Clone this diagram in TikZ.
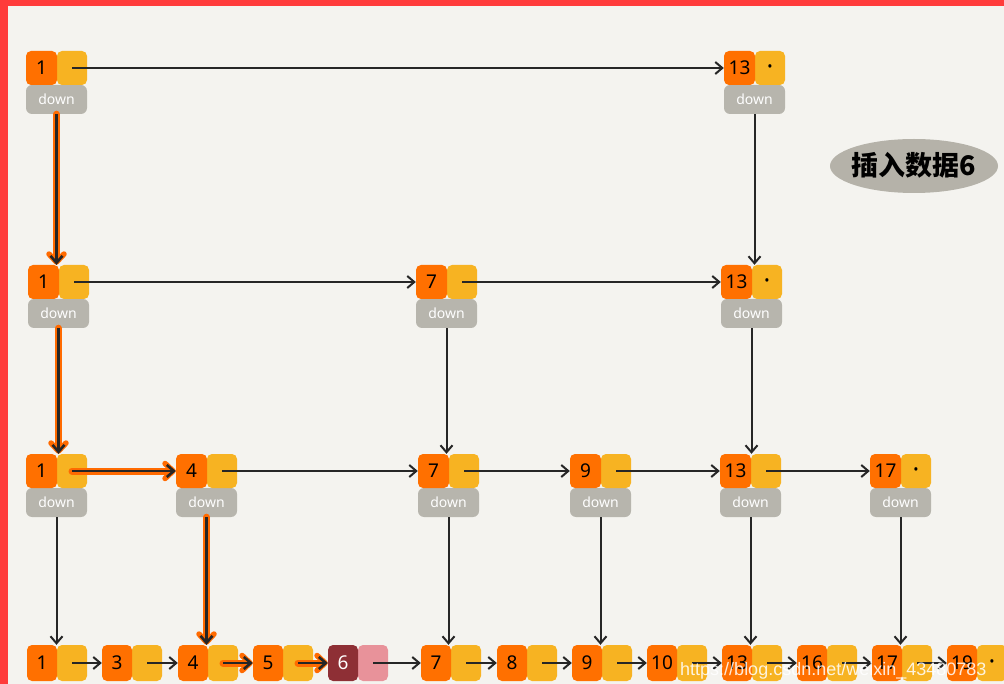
\documentclass[tikz,border=0pt]{standalone}
\usepackage{fontspec}
\setmainfont{Noto Sans}
\newfontfamily\cjk{Noto Sans CJK SC}
\newfontfamily\wmfont{Liberation Sans}
\usetikzlibrary{arrows.meta}
\definecolor{bgc}{HTML}{F4F3EF}
\definecolor{redc}{HTML}{FF3B3B}
\definecolor{keyc}{HTML}{FF7000}
\definecolor{nextc}{HTML}{F7B322}
\definecolor{downc}{HTML}{B7B5AD}
\definecolor{blobc}{HTML}{B5B2A9}
\definecolor{arrc}{HTML}{262626}
\definecolor{hlc}{HTML}{FF6A00}
\definecolor{sixk}{HTML}{8E2F35}
\definecolor{sixn}{HTML}{E8929A}
\tikzset{
  keyb/.style={fill=keyc, rounded corners=5pt, minimum width=31pt, minimum height=34pt, inner sep=0pt, font=\fontsize{19}{19}\selectfont, text=black},
  nextb/.style={fill=nextc, rounded corners=5pt, minimum width=30pt, minimum height=34pt, inner sep=0pt, font=\fontsize{14}{14}\selectfont},
  downb/.style={fill=downc, rounded corners=6pt, minimum width=61pt, minimum height=29pt, inner sep=0pt, text=white, font=\fontsize{14}{14}\selectfont},
  arr/.style={draw=arrc, line width=2pt, -{Straight Barb[length=7pt,width=12pt,line width=2pt]}},
  hl/.style={draw=arrc, line width=2.6pt, -{Straight Barb[length=7pt,width=12pt,line width=2.6pt]},
    preaction={draw=hlc, line width=7pt, line cap=round, -{Straight Barb[length=8pt,width=15pt,line width=5.5pt,round]}}},
}
% name, left x, key center y, label, next content
\newcommand\sknode[5]{%
  \node[downb] (#1d) at ({#2+30.5},{#3+31.5}) {down};
  \node[nextb] (#1n) at ({#2+46},{#3}) {#5};
  \node[keyb] (#1k) at ({#2+15.5},{#3}) {#4};
}
\newcommand\sbnode[5]{%
  \node[nextb, minimum height=36pt] (#1n) at ({#2+45},{#3}) {#5};
  \node[keyb, minimum width=30pt, minimum height=36pt] (#1k) at ({#2+15},{#3}) {#4};
}
\newcommand\varr[3][arr]{\draw[#1] (#2d.south) -- (#2d.south |- #3k.north east);}
\newcommand\harr[3][arr]{\draw[#1] (#2n.center) -- (#3k.west);}
\begin{document}
\begin{tikzpicture}[x=1pt,y=-1pt]
\useasboundingbox (0,0) rectangle (1004,684);
\fill[bgc] (0,0) rectangle (1004,684);
\fill[redc] (0,0) rectangle (1004,6);
\fill[redc] (0,0) rectangle (8,684);

% label blob
\fill[blobc] (914,166) ellipse [x radius=84, y radius=27];
\node[font=\cjk\bfseries\fontsize{27}{27}\selectfont] (lbl) at (914,165) {插入数据6};

% level 1
\sknode{a1}{26}{68}{1}{}
\sknode{a13}{724}{68}{13}{\textbullet}
% level 2
\sknode{b1}{28}{282}{1}{}
\sknode{b7}{416}{282}{7}{}
\sknode{b13}{721}{282}{13}{\textbullet}
% level 3
\sknode{c1}{26}{471}{1}{}
\sknode{c4}{176}{471}{4}{}
\sknode{c7}{418}{471}{7}{}
\sknode{c9}{570}{471}{9}{}
\sknode{c13}{720}{471}{13}{}
\sknode{c17}{870}{471}{17}{\textbullet}
% level 4
\sbnode{d1}{27}{663}{1}{}
\sbnode{d3}{102}{663}{3}{}
\sbnode{d4}{178}{663}{4}{}
\sbnode{d5}{253}{663}{5}{}
\node[nextb, fill=sixn, minimum height=36pt] (d6n) at (373,663) {};
\node[keyb, fill=sixk, text=white, minimum width=30pt, minimum height=36pt] (d6k) at (343,663) {6};
\sbnode{d7}{421}{663}{7}{}
\sbnode{d8}{497}{663}{8}{}
\sbnode{d9}{572}{663}{9}{}
\sbnode{d10}{647}{663}{10}{}
\sbnode{d13}{722}{663}{13}{}
\sbnode{d16}{797}{663}{16}{}
\sbnode{d17}{872}{663}{17}{}
\sbnode{d19}{947}{663}{19}{\textbullet}

% horizontal arrows
\harr{a1}{a13}
\harr{b1}{b7}
\harr{b7}{b13}
\harr[hl]{c1}{c4}
\harr{c4}{c7}
\harr{c7}{c9}
\harr{c9}{c13}
\harr{c13}{c17}
\harr{d1}{d3}
\harr{d3}{d4}
\harr[hl]{d4}{d5}
\harr[hl]{d5}{d6}
\harr{d6}{d7}
\harr{d7}{d8}
\harr{d8}{d9}
\harr{d9}{d10}
\harr{d10}{d13}
\harr{d13}{d16}
\harr{d16}{d17}
\harr{d17}{d19}

% vertical arrows
\varr[hl]{a1}{b1}
\varr{a13}{b13}
\varr[hl]{b1}{c1}
\varr{b7}{c7}
\varr{b13}{c13}
\varr{c1}{d1}
\varr[hl]{c4}{d4}
\varr{c7}{d7}
\varr{c9}{d9}
\varr{c13}{d13}
\varr{c17}{d17}

% watermark
\node[anchor=west, text=white, opacity=0.85, font=\wmfont\fontsize{18}{18}\selectfont, inner sep=0pt] (wm) at (680,671) {https://blog.csdn.net/weixin\_43480783};
\end{tikzpicture}
\end{document}
